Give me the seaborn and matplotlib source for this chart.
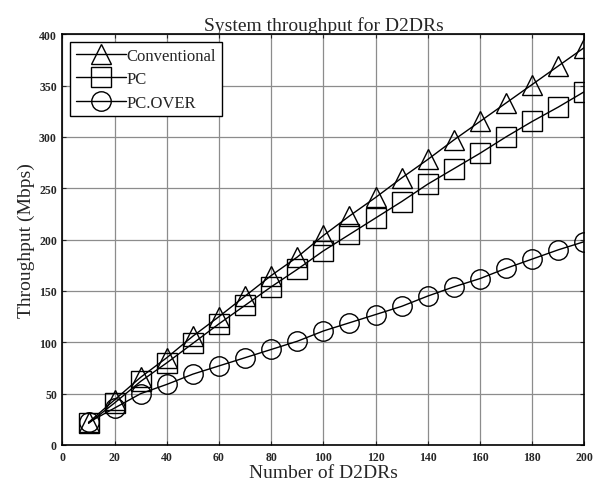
import numpy as np
import pandas as pd
import matplotlib
matplotlib.use('Agg')
import matplotlib.pyplot as plt
import seaborn as sns

# values
num_d2drs = [10, 20, 30, 40, 50, 60, 70, 80, 90, 100,
             110, 120, 130, 140, 150, 160, 170, 180, 190, 200]
conventional = [22, 44, 66, 85, 106, 125, 145, 165, 183, 204,
                223, 241, 260, 278, 297, 315, 333, 351, 369, 387]
pc = [21, 41, 62, 80, 99, 118, 136, 154, 171, 189,
      205, 221, 237, 254, 269, 284, 300, 315, 329, 344]
pc_over = [22, 36, 50, 59, 69, 77, 85, 93, 101, 111,
           119, 127, 135, 145, 154, 162, 172, 181, 190, 198]

sns.set_style('ticks')
plt.rcParams['font.family'] = ['Liberation Serif', 'DejaVu Serif']

fig = plt.figure(figsize=(5.95, 4.89), dpi=100)
ax = fig.add_axes([0.105, 0.088, 0.877, 0.84])

series = [('Conventional', conventional, '^'),
          ('PC', pc, 's'),
          ('PC.OVER', pc_over, 'o')]
for name, vals, mk in series:
    df = pd.DataFrame({'x': num_d2drs, 'y': vals})
    sns.lineplot(data=df, x='x', y='y', ax=ax, color='black', linewidth=1,
                 marker=mk, markersize=14, markerfacecolor='none',
                 markeredgecolor='black', markeredgewidth=1, label=name)

ax.set_xlim(0, 200)
ax.set_ylim(0, 400)
ax.set_xticks(np.arange(0, 201, 20))
ax.set_yticks(np.arange(0, 401, 50))
ax.grid(True, color='#8c8c8c', linewidth=0.9)
ax.tick_params(direction='in', top=True, right=True, length=3, width=0.8,
               labelsize=8.5, pad=4)
for lbl in ax.get_xticklabels() + ax.get_yticklabels():
    lbl.set_fontweight('bold')
for sp in ax.spines.values():
    sp.set_linewidth(1.2)
    sp.set_color('black')

ax.set_title('System throughput for D2DRs', fontsize=14, pad=3)
ax.set_xlabel('Number of D2DRs', fontsize=14, labelpad=1)
ax.set_ylabel('Throughput (Mbps)', fontsize=14, labelpad=3)

leg = ax.legend(loc='upper left', fontsize=12, handlelength=3.0,
                frameon=True, fancybox=False, borderaxespad=0.45,
                handletextpad=0.05, labelspacing=0.45, borderpad=0.35)
leg.get_frame().set_edgecolor('black')
leg.get_frame().set_linewidth(1.0)
leg.get_frame().set_alpha(1)

fig.savefig('out.png', dpi=100)
